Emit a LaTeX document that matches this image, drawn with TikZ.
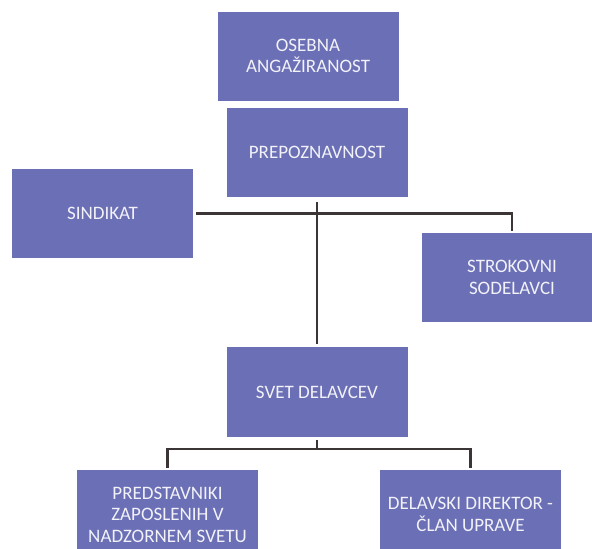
\documentclass[tikz,border=0pt]{standalone}
\usepackage{fontspec}
\setmainfont{Carlito}
\definecolor{boxfill}{HTML}{6B6FB6}
\definecolor{linecol}{HTML}{3B3535}
\definecolor{textcol}{HTML}{F2F2F8}
\begin{document}
\begin{tikzpicture}[x=1pt,y=-1pt,
  box/.style={fill=boxfill, draw=none, inner sep=0pt, align=center, text=textcol,
    font=\fontsize{19}{21.5}\selectfont, minimum width=181pt, minimum height=89pt},
  conn/.style={draw=linecol, line width=2.4pt}]
\useasboundingbox[fill=white] (0,0) rectangle (592,549);
\node[box] (osebna) at (308,56) {OSEBNA\\ANGAŽIRANOST};
\node[box] (prep) at (317,152.5) {PREPOZNAVNOST};
\node[box] (sind) at (102.5,213.5) {SINDIKAT};
\node[box, minimum width=180pt] (strok) at (512,277.5) {STROKOVNI\\SODELAVCI};
\node[box, minimum height=90pt] (svet) at (317,392) {SVET DELAVCEV};
\node[box] (pred) at (167.5,514.5) {PREDSTAVNIKI\\ZAPOSLENIH V\\NADZORNEM SVETU};
\node[box] (dela) at (470.5,514.5) {DELAVSKI DIREKTOR -\\ČLAN UPRAVE};
\coordinate (bj) at (317,449);
\draw[conn, shorten <=3pt, shorten >=2pt] (sind.east) -| (strok.north);
\draw[conn, shorten <=5pt, shorten >=3pt] (prep.south) -- (svet.north);
\draw[conn, shorten <=3pt] (svet.south) -- (bj);
\draw[conn, shorten >=2pt] (bj) -| (pred.north);
\draw[conn, shorten >=2pt] (bj) -| (dela.north);
\end{tikzpicture}
\end{document}
